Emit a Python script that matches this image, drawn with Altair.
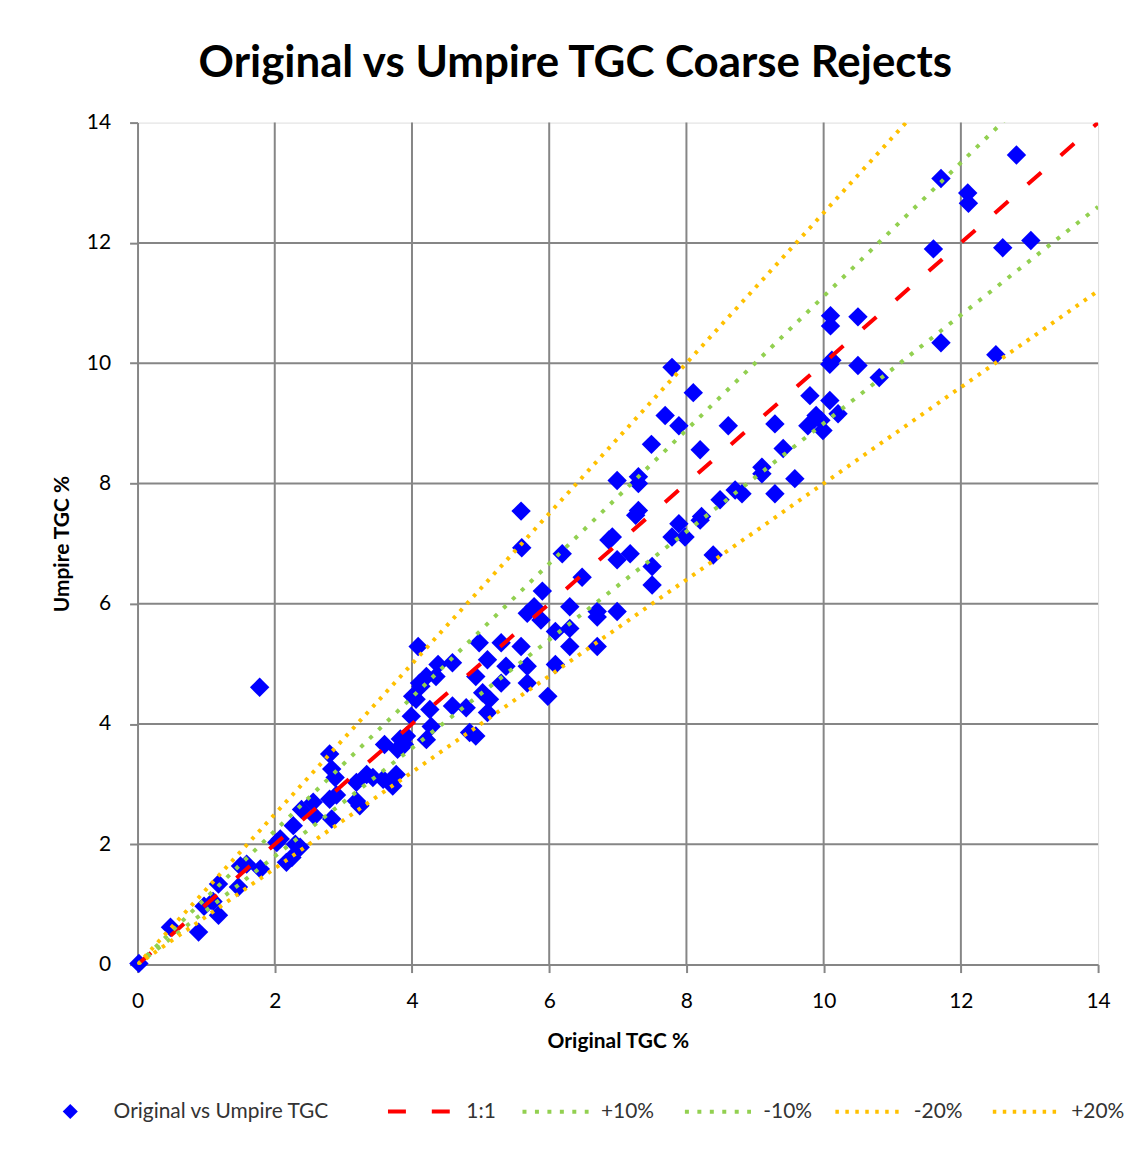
import altair as alt
import pandas as pd

# ---- scatter data (Original TGC %, Umpire TGC %) ----
orig = [0.02, 0.48, 0.89, 0.97, 1.10, 1.18, 1.18, 1.47, 1.50, 1.59, 1.79, 1.78,
        2.03, 2.08, 2.17, 2.25, 2.37, 2.30, 2.27, 2.39, 2.56, 2.58, 2.80, 2.83,
        2.80, 2.83, 2.88, 2.90, 3.19, 3.19, 3.24, 3.34, 3.43, 3.58, 3.67, 3.72,
        3.77, 3.60, 3.79, 3.89, 3.83, 3.92, 3.99, 4.01, 4.06, 4.09, 4.11, 4.13,
        4.21, 4.26, 4.28, 4.21, 4.35, 4.38, 4.59, 4.59, 4.79, 4.84, 4.93, 4.93,
        4.98, 5.03, 5.10, 5.13, 5.10, 5.30, 5.37, 5.30, 5.59, 5.68, 5.68, 5.59,
        5.60, 5.78, 5.68, 5.88, 5.90, 6.09, 6.30, 6.30, 6.30, 6.09, 5.98, 6.19,
        6.48, 6.70, 6.70, 6.99, 6.70, 6.87, 6.92, 6.99, 7.18, 7.26, 7.30, 7.50,
        7.50, 7.79, 7.89, 7.98, 8.20, 8.22, 8.39, 6.99, 7.30, 7.30, 7.79, 8.10,
        7.69, 7.89, 7.49, 8.61, 8.20, 9.29, 9.41, 9.10, 9.10, 9.58, 9.29, 8.71,
        8.81, 8.49, 10.09, 10.12, 10.50, 10.81, 9.80, 10.09, 10.21, 9.89, 9.77,
        9.99, 9.96, 12.81, 11.71, 12.10, 12.11, 11.60, 12.61, 13.02, 10.10,
        10.10, 10.50, 11.71, 12.51]
umpire = [0.02, 0.62, 0.54, 0.97, 1.05, 1.34, 0.82, 1.29, 1.64, 1.67, 1.59, 4.61,
          2.03, 2.09, 1.70, 1.78, 1.95, 2.00, 2.31, 2.58, 2.70, 2.47, 2.75, 2.42,
          3.50, 3.25, 3.11, 2.82, 3.03, 2.72, 2.64, 3.16, 3.11, 3.08, 3.03, 2.97,
          3.16, 3.66, 3.58, 3.66, 3.75, 3.80, 4.13, 4.46, 4.41, 5.29, 4.68, 4.63,
          4.79, 4.24, 3.96, 3.74, 4.79, 4.99, 5.02, 4.30, 4.27, 3.86, 3.80, 4.79,
          5.35, 4.52, 5.07, 4.41, 4.19, 5.35, 4.96, 4.68, 5.29, 4.96, 4.68, 7.54,
          6.93, 5.95, 5.84, 5.73, 6.21, 5.54, 5.95, 5.59, 5.29, 4.99, 4.46, 6.83,
          6.44, 5.87, 5.78, 5.87, 5.29, 7.06, 7.11, 6.73, 6.83, 7.47, 7.55, 6.62,
          6.31, 7.11, 7.33, 7.11, 7.39, 7.45, 6.81, 8.05, 8.11, 8.00, 9.93, 9.51,
          9.13, 8.96, 8.65, 8.96, 8.56, 8.99, 8.58, 8.27, 8.16, 8.08, 7.83, 7.89,
          7.83, 7.73, 9.98, 10.05, 9.96, 9.76, 9.46, 9.38, 9.16, 9.13, 8.96,
          8.88, 9.05, 13.46, 13.07, 12.83, 12.66, 11.90, 11.92, 12.04, 10.79,
          10.62, 10.77, 10.34, 10.14]

point_label = "Original vs Umpire TGC"

# ---- reference lines ----
line_names = ["1:1", "+10%", "-10%", "-20%", "+20%"]
line_factors = [1.0, 1 / 0.9, 0.9, 0.8, 1 / 0.8]
red_names = ["1:1"]
green_names = ["+10%", "-10%"]
orange_names = ["-20%", "+20%"]
red = "#FF0000"
green = "#92D050"
orange = "#FFC000"
red_dash = [[18, 26]]
green_dash = [[4, 8.5], [4, 8.5]]
orange_dash = [[3.5, 6.5], [3.5, 6.5]]
x_ends = [0, 14]

df_pts = pd.DataFrame({"orig": orig, "umpire": umpire, "pt": point_label})
rows = []
for name, f in zip(line_names, line_factors):
    for xv in x_ends:
        rows.append({"series": name, "x": xv, "y": xv * f})
df_lines = pd.DataFrame(rows)

FONT = "Lato"
ticks = [0, 2, 4, 6, 8, 10, 12, 14]
grid_vals = [2, 4, 6, 8, 10, 12]

x_scale = alt.Scale(domain=[0, 14], nice=False, zero=True)
y_scale = alt.Scale(domain=[0, 14], nice=False, zero=True)

axis_common = dict(values=ticks, grid=False, domainColor="#868686", domainWidth=2,
                   tickColor="#868686", tickWidth=2, tickSize=8, labelFlush=False,
                   labelFont=FONT, labelFontSize=21, labelColor="#000000",
                   titleFont=FONT, titleFontSize=21, titleFontWeight="bold",
                   titleColor="#000000")

x_axis = alt.Axis(title="Original TGC %", labelPadding=18, titlePadding=19, **axis_common)
y_axis = alt.Axis(title="Umpire TGC %", labelPadding=19, titlePadding=14, **axis_common)

grid_df = pd.DataFrame({"g": grid_vals})
vgrid = alt.Chart(grid_df).mark_rule(color="#868686", strokeWidth=2).encode(
    x=alt.X("g:Q", scale=x_scale, axis=x_axis))
hgrid = alt.Chart(grid_df).mark_rule(color="#868686", strokeWidth=2).encode(
    y=alt.Y("g:Q", scale=y_scale, axis=y_axis))

legend_text = dict(orient="none", direction="horizontal", title=None,
                   labelFont=FONT, labelFontSize=21, labelColor="#333333",
                   labelLimit=400, padding=0)

pts = alt.Chart(df_pts).mark_point(shape="diamond", filled=True, size=380, opacity=1).encode(
    x=alt.X("orig:Q", scale=x_scale, axis=x_axis),
    y=alt.Y("umpire:Q", scale=y_scale, axis=y_axis),
    color=alt.Color("pt:N", scale=alt.Scale(domain=[point_label], range=["#0000FF"]),
                    legend=alt.Legend(symbolType="diamond", symbolSize=230,
                                      symbolStrokeWidth=0, labelOffset=33,
                                      legendX=-78, legendY=982, **legend_text)),
)


def line_layer(names, color, dashes, legend_x, col_pad):
    d = df_lines[df_lines["series"].isin(names)]
    leg = alt.Legend(symbolType="stroke", symbolSize=4400, symbolStrokeWidth=4,
                     symbolStrokeColor=color, labelOffset=10, columnPadding=col_pad,
                     columns=len(names), legendX=legend_x, legendY=957, **legend_text)
    return alt.Chart(d).mark_line(strokeWidth=4, clip=True, color=color).encode(
        x=alt.X("x:Q", scale=x_scale, axis=x_axis),
        y=alt.Y("y:Q", scale=y_scale, axis=y_axis),
        strokeDash=alt.StrokeDash("series:N", sort=names,
                                  scale=alt.Scale(domain=names, range=dashes),
                                  legend=leg),
    )


red_layer = line_layer(red_names, red, red_dash, 249, 24)
green_layer = line_layer(green_names, green, green_dash, 384, 22)
orange_layer = line_layer(orange_names, orange, orange_dash, 698, 22)

chart = alt.layer(vgrid, hgrid, pts, red_layer, green_layer, orange_layer).resolve_scale(
    color="independent", strokeDash="independent"
).properties(
    width=964,
    height=845,
    padding={"left": 43, "top": 32, "right": 0, "bottom": 5},
    title=alt.TitleParams("Original vs Umpire TGC Coarse Rejects", font=FONT, fontSize=44,
                          fontWeight="bold", color="#000000", anchor="middle",
                          frame="bounds", offset=26, dx=-13),
).configure_view(
    stroke="#000000", strokeWidth=2
).configure(background="#FFFFFF")

chart.save("out.html", embed_options={"renderer": "svg", "actions": False})
